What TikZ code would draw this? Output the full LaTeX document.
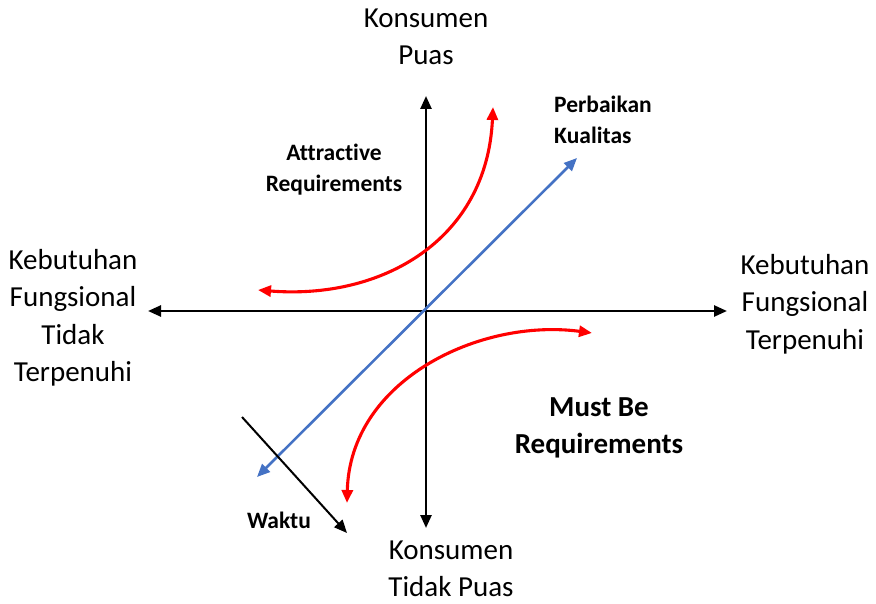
\documentclass[tikz,border=0pt]{standalone}
\usepackage{fontspec}
\setmainfont{Carlito}[Ligatures={NoCommon,NoRare,NoContextual}]
\usetikzlibrary{arrows.meta}
\definecolor{myred}{RGB}{255,0,0}
\definecolor{myblue}{RGB}{68,114,196}
\begin{document}
\begin{tikzpicture}[x=1pt,y=-1pt,
  tipa/.style={{Triangle[length=13pt,width=11pt]}-{Triangle[length=13pt,width=11pt]}},
  axis/.style={tipa, line width=2.5pt, black},
  redcurve/.style={{Triangle[length=13pt,width=11pt]}-{Triangle[length=13pt,width=11pt]}, line width=3.1pt, myred},
  bluearrow/.style={{Triangle[length=13pt,width=11pt]}-{Triangle[length=13pt,width=11pt]}, line width=2.6pt, myblue},
  timearrow/.style={-{Triangle[length=13pt,width=11pt]}, line width=2pt, black},
  biglabel/.style={align=center, inner sep=0pt, font=\fontsize{29}{37.5}\selectfont},
  boldlabel/.style={align=center, inner sep=0pt, font=\bfseries\fontsize{23.5}{31}\selectfont},
  mustlabel/.style={align=center, inner sep=0pt, font=\bfseries\fontsize{29}{37}\selectfont}
]
\useasboundingbox (0,0) rectangle (876,604);
\coordinate (O) at (426,311);
\coordinate (L) at (148,311);
\coordinate (R) at (727,311);
\coordinate (T) at (426,96);
\coordinate (B) at (426,528);
\coordinate (blueA) at (257,477);
\coordinate (blueB) at (577,158);
\coordinate (r1a) at (258,290);
\coordinate (r1b) at (493,107);
\coordinate (r2a) at (592,333);
\coordinate (r2b) at (347,503);
\coordinate (wA) at (242,417);
\coordinate (wB) at (347,533);

\draw[axis] (L) -- (R);
\draw[axis] (B) -- (T);
\draw[bluearrow] (blueA) -- (blueB);
\draw[redcurve] (r1a) .. controls (382,300) and (487,240) .. (r1b);
\draw[redcurve] (r2a) .. controls (480,318) and (350,380) .. (r2b);
\draw[timearrow] (wA) -- (wB);

\node[biglabel] (kp) at (426,37) {Konsumen\\Puas};
\node[biglabel] (ktp) at (451,569) {Konsumen\\Tidak Puas};
\node[biglabel] (kl) at (73,318) {Kebutuhan\\Fungsional\\Tidak\\Terpenuhi};
\node[biglabel] (kr) at (805,304) {Kebutuhan\\Fungsional\\Terpenuhi};
\node[boldlabel, align=left, anchor=west] (pk) at (554,120) {Perbaikan\\Kualitas};
\node[boldlabel] (ar) at (334,170) {Attractive\\Requirements};
\node[mustlabel] (mb) at (599,428) {Must Be\\Requirements};
\node[boldlabel, font=\bfseries\fontsize{23.5}{26}\selectfont] (wk) at (279,520) {Waktu};
\end{tikzpicture}
\end{document}
